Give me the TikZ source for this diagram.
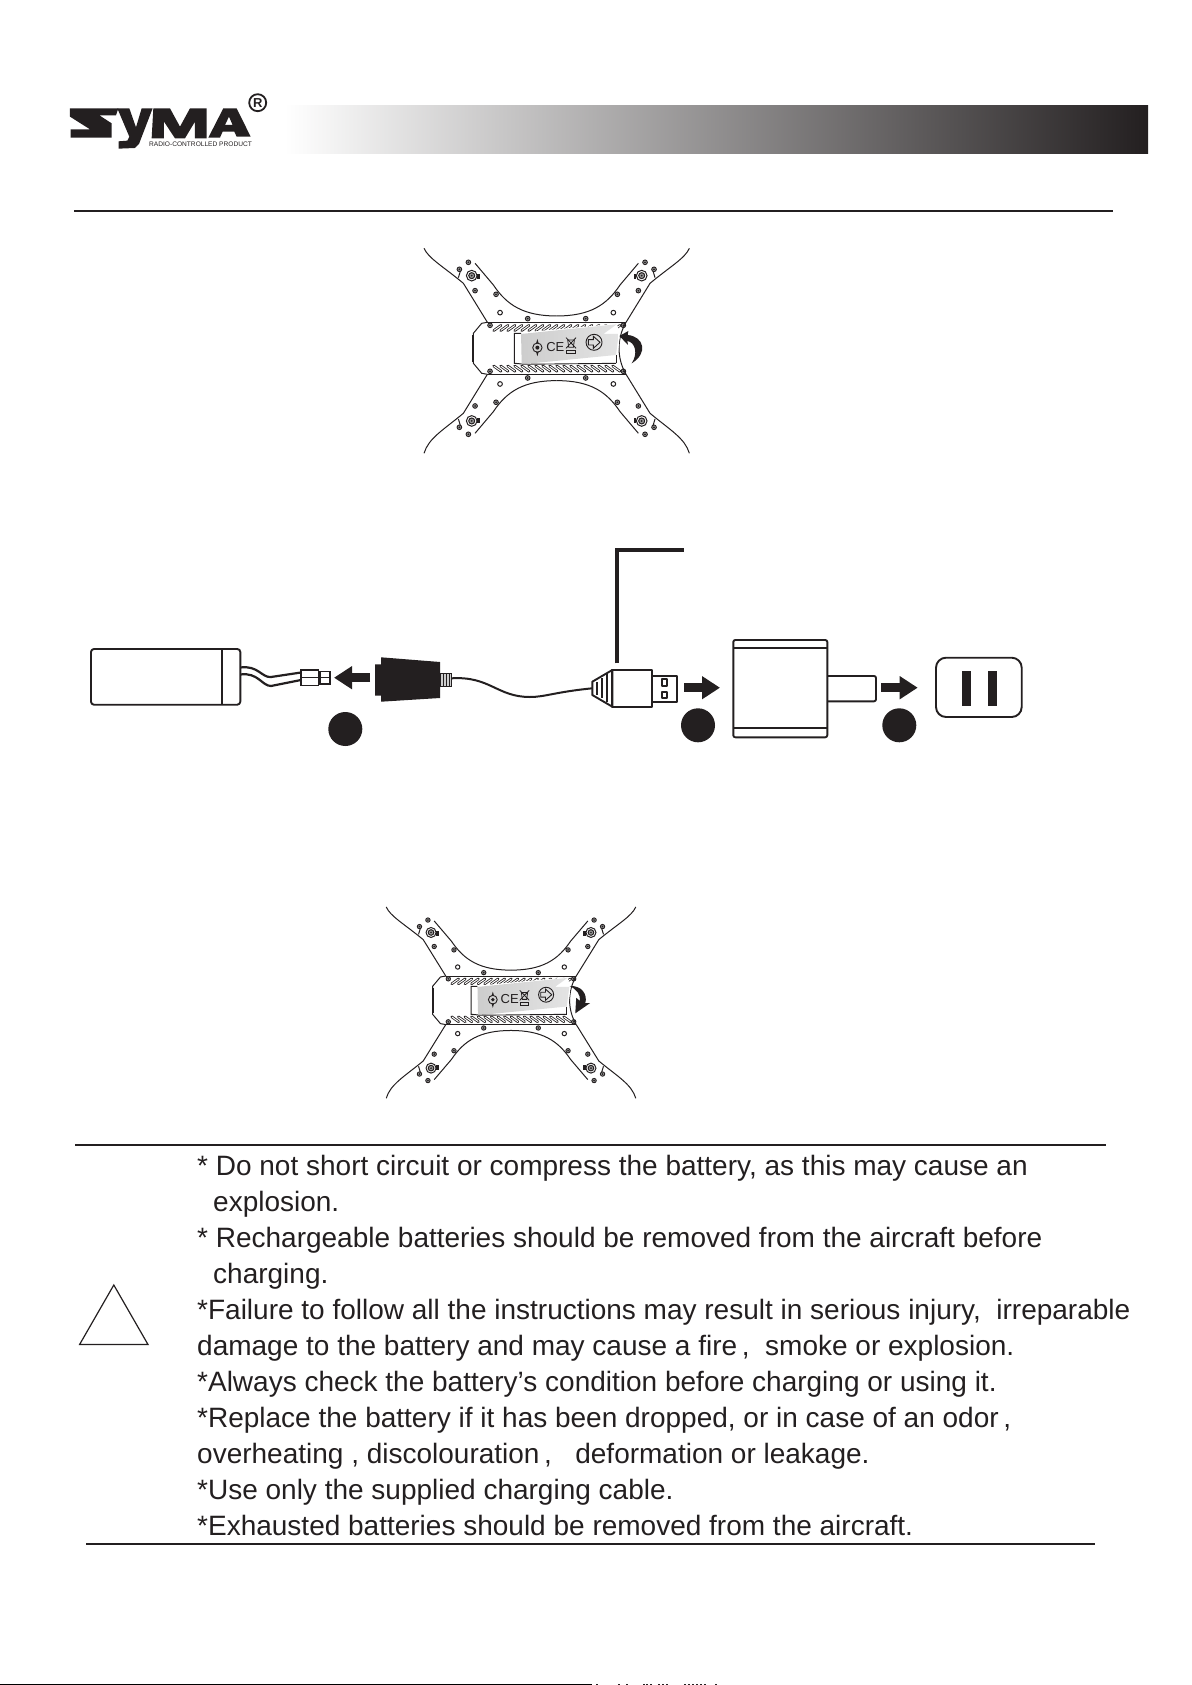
\documentclass[tikz,border=0pt]{standalone}
\usepackage{fontspec}
\setmainfont{Liberation Sans}
\usepackage{tikz}
\usetikzlibrary{arrows.meta,positioning,calc}
\definecolor{inkcol}{RGB}{35,31,32}
\definecolor{labelcol}{RGB}{205,205,205}
\definecolor{screwcol}{RGB}{150,150,150}
\tikzset{
  % long horizontal rule
  pagerule/.style={inkcol, line width=2pt},
  % fat arrow between the charging parts
  fatarrow/.style={-{Triangle[length=18pt,width=22pt]}, line width=9pt, inkcol},
  % black step dot
  stepdot/.style={circle, fill=inkcol, minimum size=34pt, inner sep=0pt},
  % outlined part of the charging chain
  partline/.style={inkcol, line width=1.9pt, line join=round},
  % warning text line
  warnline/.style={anchor=base west, inner sep=0pt, text=inkcol,
                   font=\fontsize{28}{36}\selectfont},
  % thin drone outline
  droneline/.style={inkcol, line width=1pt},
}
% one screw of the drone, in the scope's units
\newcommand{\dronescrew}[2]{%
  \filldraw[inkcol, line width=0.9pt, fill=screwcol] (#1,#2) circle (7);
  \fill[inkcol] (#1,#2) circle (3);
}
% drone seen from below, centred on the scope's origin
\newcommand{\dronebody}{%
  \foreach \sy/\tipv in {1/-300,-1/-315} {
    \begin{scope}[yscale=\sy]
      % centre plate edge
      \draw[droneline] (-208,-78) -- (208,-78);
      % vents
      \foreach \u in {-178,-157,...,180} {
        \draw[inkcol, line width=2.6pt, line cap=round] (\u-11,-53) -- (\u+11,-69);
        \draw[white, line width=1pt, line cap=round] (\u-10,-54) -- (\u+10,-68);
      }
      \foreach \sx in {1,-1} {
        \begin{scope}[xscale=\sx]
          % arm
          \draw[droneline] (-398,\tipv) .. controls (-385,-270) and (-340,-245) .. (-280,-195) -- (-208,-78);
          \draw[droneline] (-245,-255) -- (-190,-190) .. controls (-150,-130) and (-100,-97) .. (0,-97);
          \draw[droneline] (-295,-212) -- (-288,-235);
          % motor
          \draw[droneline, fill=white] (-255,-218) circle (16);
          \draw[droneline, fill=screwcol] (-255,-218) circle (9);
          \fill[inkcol] (-255,-218) circle (3);
          \fill[inkcol] (-238,-224) rectangle (-231,-208);
          % screws
          \dronescrew{-265}{-258}
          \dronescrew{-292}{-237}
          \dronescrew{-245}{-173}
          \dronescrew{-182}{-162}
          \dronescrew{-87}{-89}
          \dronescrew{-200}{-69}
          \draw[droneline, fill=white] (-170,-107) circle (7);
        \end{scope}
      }
    \end{scope}
  }
  % nose and tail
  \draw[droneline] (-208,-78) -- (-225,-75) -- (-250,-45) -- (-250,45) -- (-225,75) -- (-208,78);
  \draw[inkcol, line width=2pt] (-250,-40) -- (-250,40);
  \draw[droneline] (208,-78) .. controls (180,-30) and (180,30) .. (208,78);
  % battery
  \fill[white] (-127,-45) -- (180,-74) -- (190,-43) -- (180,47) -- (-127,47) -- cycle;
  \draw[droneline] (-107,-45) -- (-127,-45) -- (-127,45) -- (-105,47);
  \shade[left color=labelcol, right color=labelcol!55] (-107,-43) -- (180,-72) -- (140,-43) -- (186,-43) -- (178,20) -- (-105,48) -- cycle;
  \draw[inkcol, line width=0.9pt] (-105,48) -- (178,45);
  \draw[droneline] (178,20) -- (178,45);
  % label marks
  \draw[inkcol, line width=0.9pt] (-58,-2) circle (14);
  \fill[inkcol] (-58,-2) circle (6);
  \fill[inkcol] (-62,-14) -- (-58,-28) -- (-54,-14) -- cycle;
  \fill[inkcol] (-62,10) -- (-58,24) -- (-54,10) -- cycle;
  \node[inner sep=0pt, text=inkcol, font=\fontsize{13}{13}\selectfont] (cemark) at (-4,-3) {CE};
  \draw[inkcol, line width=0.8pt] (33,-25) -- (53,-25) -- (50,-3) -- (36,-3) -- cycle;
  \draw[inkcol, line width=0.8pt] (28,-32) -- (58,0) (58,-32) -- (28,0);
  \draw[inkcol, line width=0.8pt] (30,6) rectangle (56,15);
  \draw[inkcol, line width=0.9pt] (112,-18) circle (24);
  \draw[inkcol, line width=0.9pt] (95,-26) -- (110,-26) -- (110,-36) -- (130,-18) -- (110,0) -- (110,-10) -- (95,-10) -- cycle;
}

\begin{document}
\begin{tikzpicture}[x=1pt, y=-1pt]
  \useasboundingbox (0,0) rectangle (1191,1685);

  % ═══════ HEADER ═══════
  \shade[left color=white, right color=inkcol] (285,106) rectangle (1148,153.5);
  \begin{scope}[shift={(40,70)}, x=0.3333pt, y=-0.3333pt]
    \fill[inkcol] (90,115) -- (235,115) -- (228,136) -- (178,136) -- (215,160) -- (215,203) -- (92,203) -- (92,178) -- (150,178) -- (90,140) -- cycle;
    \fill[inkcol] (232,115) -- (268,115) -- (288,172) -- (305,115) -- (338,115) -- (297,222) -- (285,234) -- (236,236) -- (236,214) -- (262,212) -- (268,200) -- cycle;
    \fill[inkcol] (340,115) -- (390,115) -- (420,170) -- (450,115) -- (500,115) -- (500,205) -- (465,205) -- (465,155) -- (435,205) -- (405,205) -- (372,155) -- (372,205) -- (335,205) -- cycle;
    \fill[inkcol, even odd rule] (505,203) -- (550,115) -- (590,115) -- (632,200) -- (590,200) -- (583,185) -- (548,185) -- (540,203) -- cycle
      (555,165) -- (578,165) -- (567,140) -- cycle;
  \end{scope}
  \node[circle, draw=inkcol, line width=1.8pt, minimum size=17pt, inner sep=0pt, text=inkcol, font=\fontsize{13}{13}\selectfont\bfseries] (regmark) at (257.7,102.7) {R};
  \node[inner sep=0pt, anchor=west, text=inkcol, font=\fontsize{6.6}{7}\selectfont] (tagline) at (149,144.5) {RADIO-CONTROLLED PRODUCT};
  \coordinate (rule1a) at (74,210.7);
  \coordinate (rule1b) at (1112.6,210.7);
  \draw[pagerule] (rule1a) -- (rule1b);

  % ═══════ TOP DRONE ═══════
  \begin{scope}[shift={(556.7,348.3)}, x=0.3333pt, y=-0.3333pt, name prefix=upper-]
    \dronebody
    % battery lifted
    \fill[inkcol] (225,45) .. controls (245,15) and (235,-18) .. (212,-22) -- (214,-10) -- (188,-37) -- (215,-52) -- (213,-40) .. controls (262,-35) and (275,15) .. (225,45) -- cycle;
  \end{scope}

  % ═══════ CHARGING CHAIN ═══════
  % battery
  \draw[partline, rounded corners=3pt] (91,649) rectangle (240.3,704.7);
  \draw[partline] (221.7,649) -- (221.7,704.7);
  \draw[inkcol, line width=2.2pt] (240.3,667.5) .. controls (258,665) and (262,678) .. (271,677) -- (301,672.5);
  \draw[inkcol, line width=2.2pt] (240.3,674.5) .. controls (258,672) and (262,686) .. (271,686) -- (301,680);
  \node[draw=inkcol, line width=1.5pt, fill=white, minimum width=17.5pt, minimum height=15.5pt, inner sep=0pt] (jackbody) at (309.5,677.8) {};
  \node[draw=inkcol, line width=1.5pt, fill=white, minimum width=10pt, minimum height=12.5pt, inner sep=0pt, right=0pt of jackbody] (jacktip) {};
  \draw[inkcol, line width=1.2pt] (jackbody.west) -- (jackbody.east) (jacktip.west) -- (jacktip.east);
  % arrow into the plug
  \coordinate (arrowAfrom) at (370,677.7);
  \coordinate (arrowAto) at (334,677.7);
  \draw[fatarrow] (arrowAfrom) -- (arrowAto);
  \node[stepdot] (dotA) at (345.3,729) {};
  % balance plug
  \fill[inkcol] (375,664.3) -- (381,664.3) -- (381,657.3) -- (440,662) -- (440,698) -- (381,701.7) -- (381,695.7) -- (375,695.7) -- cycle;
  \draw[inkcol, line width=0.8pt, fill=labelcol] (440,673.3) rectangle (451.7,686.7);
  \foreach \x in {443,446,449} \draw[inkcol, line width=0.6pt] (\x,673.3) -- (\x,686.7);
  % cable
  \draw[inkcol, line width=2pt] (451.7,678.3) .. controls (490,676) and (497,697) .. (530,697) .. controls (545,697) and (555,692) .. (592.3,688.3);
  % usb plug
  \fill[white] (592.3,681.7) -- (612.3,670) -- (612.3,706.7) -- (592.3,695) -- cycle;
  \draw[partline] (592.3,681.7) -- (612.3,670) -- (612.3,706.7) -- (592.3,695) -- cycle;
  \foreach \x/\h in {597/6.5,602/10,607/14} \draw[inkcol, line width=1.1pt] (\x,688.3-\h) -- (\x,688.3+\h);
  \draw[partline] (612.3,670) rectangle (652.3,707);
  \draw[partline] (652.3,675.7) rectangle (677.3,702);
  \draw[partline] (661.7,679) rectangle (667.3,685.7);
  \draw[partline] (661.7,691.7) rectangle (667.3,698.3);
  % leader
  \coordinate (leaderfoot) at (616.7,663.3);
  \coordinate (leaderend) at (684,550);
  \draw[inkcol, line width=3.6pt] (leaderfoot) |- (leaderend);
  % arrow into the adapter
  \coordinate (arrowBfrom) at (684,687.7);
  \coordinate (arrowBto) at (720,687.7);
  \draw[fatarrow] (arrowBfrom) -- (arrowBto);
  \node[stepdot] (dotB) at (698,725.3) {};
  % adapter
  \draw[partline, rounded corners=2pt] (827.3,676) -- (876,676) -- (876,701.3) -- (827.3,701.3);
  \draw[partline, rounded corners=2pt] (733.3,640) rectangle (827.3,737.3);
  \draw[partline] (733.3,648.3) -- (827.3,648.3) (733.3,728.3) -- (827.3,728.3);
  % arrow into the socket
  \coordinate (arrowCfrom) at (881,687.7);
  \coordinate (arrowCto) at (917.7,687.7);
  \draw[fatarrow] (arrowCfrom) -- (arrowCto);
  \node[stepdot] (dotC) at (899.3,725.3) {};
  % socket
  \draw[partline, rounded corners=10pt] (936,657.7) rectangle (1021.7,717);
  \fill[inkcol] (962,671) rectangle (971,705.7);
  \fill[inkcol] (988,671) rectangle (997,705.7);

  % ═══════ LOWER DRONE ═══════
  \begin{scope}[shift={(511,1000.3)}, x=0.3135pt, y=-0.3111pt, name prefix=lower-]
    \dronebody
    % battery pressed down
    \fill[inkcol] (187,-46) .. controls (225,-48) and (245,-20) .. (237,9) -- (252,9) -- (205,42) -- (208,-8) -- (220,2) .. controls (222,-18) and (210,-35) .. (187,-46) -- cycle;
  \end{scope}

  % ═══════ WARNINGS ═══════
  \coordinate (rule2a) at (75,1144.6);
  \coordinate (rule2b) at (1106,1144.6);
  \draw[pagerule] (rule2a) -- (rule2b);
  \coordinate (triA) at (113.8,1285);
  \coordinate (triB) at (148,1344.5);
  \coordinate (triC) at (79.6,1344.5);
  \draw[inkcol, line width=1.2pt, line join=miter] (triA) -- (triB) -- (triC) -- cycle;

  \node[warnline] (warnA) at (197,1175) {* Do not short circuit or compress the battery, as this may cause an};
  \node[warnline] (warnB) at (213,1211) {explosion.};
  \node[warnline] (warnC) at (197,1247) {* Rechargeable batteries should be removed from the aircraft before};
  \node[warnline] (warnD) at (213,1283) {charging.};
  \node[warnline] (warnE) at (197,1319) {*Failure to follow all the instructions may result in serious injury,\ \ irreparable};
  \node[warnline] (warnF) at (197,1355) {damage to the battery and may cause a fire\,,\ \ smoke or explosion.};
  \node[warnline] (warnG) at (197,1391) {*Always check the battery’s condition before charging or using it.};
  \node[warnline] (warnH) at (197,1427.5) {*Replace the battery if it has been dropped, or in case of an odor\,,};
  \node[warnline] (warnI) at (197,1463.5) {overheating , discolouration\,,\ \ \ deformation or leakage.};
  \node[warnline] (warnJ) at (197,1499) {*Use only the supplied charging cable.};
  \node[warnline] (warnK) at (197,1535) {*Exhausted batteries should be removed from the aircraft.};
  \coordinate (rule3a) at (86,1544);
  \coordinate (rule3b) at (1095,1544);
  \draw[pagerule] (rule3a) -- (rule3b);

  % ═══════ PAGE FOOT ═══════
  \fill[black] (0,1684) rectangle (592,1685);
  \foreach \x in {596,618,626,643,646,650,658,662,666,684,688,692,696,700,704,715}
    \fill[inkcol] (\x,1684) rectangle (\x+2,1685);
\end{tikzpicture}
\end{document}
